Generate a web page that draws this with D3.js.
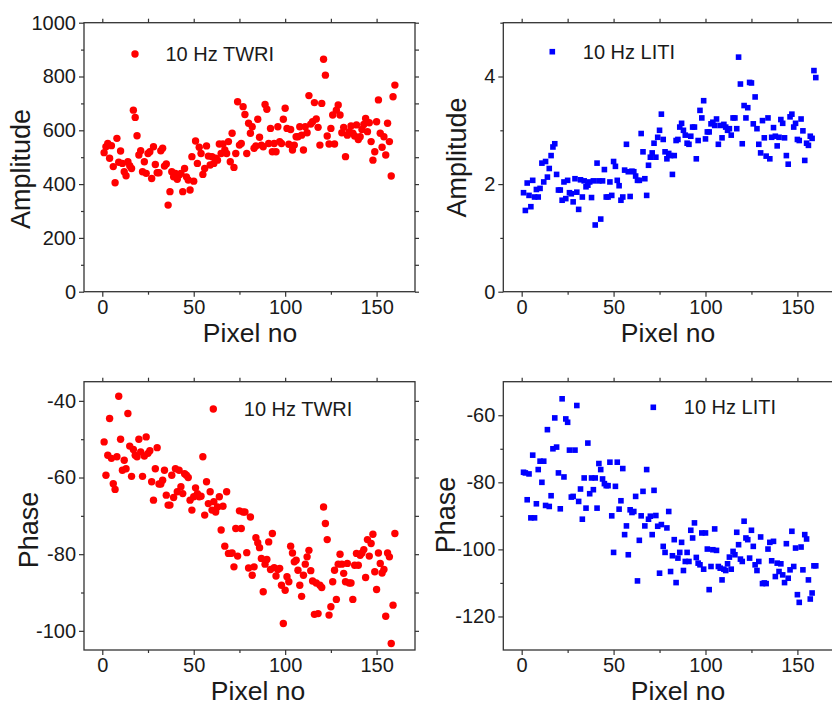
<!DOCTYPE html>
<html>
<head>
<meta charset="utf-8">
<script src="https://cdn.jsdelivr.net/npm/d3@7/dist/d3.min.js"></script>
<style>
  body { margin: 0; background: #fff; }
  svg { display: block; font-family: "Liberation Sans", Arial, sans-serif; }
</style>
</head>
<body>
<div id="chart"></div>
<script>
/* 10 Hz TWRI / LITI amplitude and phase along the pixel line */

/* amplitude, TWRI (red circles) */
const ampTWRI = [517, 539, 551, 496, 543, 465, 405, 570, 481, 523,
  477, 446, 431, 483, 468, 458, 675, 648, 580, 508,
  524, 446, 483, 440, 514, 520, 421, 539, 473, 442,
  442, 524, 533, 467, 475, 322, 372, 446, 427, 440,
  418, 434, 440, 372, 458, 427, 415, 378, 502, 411,
  560, 477, 537, 514, 436, 458, 542, 504, 471, 502,
  477, 496, 489, 549, 514, 549, 527, 514, 558, 483,
  589, 462, 514, 706, 545, 551, 688, 659, 514, 626,
  589, 613, 533, 542, 641, 574, 545, 539, 696, 678,
  551, 607, 520, 551, 520, 613, 558, 551, 641, 682,
  607, 548, 603, 527, 545, 576, 576, 613, 582, 527,
  613, 591, 729, 623, 632, 703, 642, 611, 545, 700,
  864, 805, 579, 549, 607, 657, 549, 675, 694, 657,
  591, 611, 502, 582, 595, 616, 589, 579, 620, 566,
  576, 603, 622, 644, 595, 628, 558, 489, 520, 632,
  713, 589, 537, 576, 508, 626, 558, 430, 725, 768];

/* amplitude, LITI (blue squares) */
const ampLITI = [1.84, 1.51, 2.02, 1.79, 1.58, 2.07, 1.76, 1.90, 1.76, 1.92,
  2.39, 2.04, 2.42, 2.13, 2.29, 2.53, 2.69, 2.75, 2.18, 1.89,
  1.89, 1.70, 2.04, 1.73, 2.07, 1.84, 1.82, 1.67, 2.10, 1.85,
  1.53, 2.08, 1.76, 2.06, 1.95, 1.98, 2.04, 1.75, 2.06, 1.24,
  2.39, 2.06, 1.35, 2.06, 2.27, 1.76, 1.76, 2.04, 1.79, 2.42,
  2.33, 2.07, 1.97, 1.70, 1.76, 2.26, 2.74, 2.23, 1.77, 2.24,
  2.23, 2.15, 2.07, 2.07, 2.94, 2.60, 2.10, 1.79, 2.35, 2.50,
  2.58, 2.76, 2.50, 2.87, 3.00, 3.30, 2.83, 2.60, 2.47, 2.57,
  2.53, 2.18, 2.53, 2.81, 2.83, 3.06, 3.13, 3.00, 2.91, 2.76,
  2.74, 2.89, 3.06, 3.06, 2.47, 2.81, 3.37, 3.23, 3.55, 2.84,
  2.97, 2.97, 3.12, 3.15, 3.09, 3.21, 2.74, 3.09, 2.86, 3.11,
  3.06, 3.00, 3.03, 2.91, 3.23, 3.23, 3.03, 4.36, 3.86, 2.75,
  3.46, 3.23, 3.42, 3.89, 3.88, 3.12, 3.62, 3.03, 2.74, 2.58,
  3.18, 2.86, 2.52, 3.23, 2.47, 2.87, 3.05, 2.89, 2.71, 2.87,
  3.20, 3.13, 2.86, 2.53, 2.37, 3.25, 3.30, 3.06, 3.13, 2.83,
  2.81, 3.21, 2.99, 2.44, 2.76, 2.72, 2.89, 2.85, 4.11, 3.98];

/* phase, TWRI */
const phaseTWRI = [-50.7, -59.4, -54.2, -44.6, -55.0, -61.6, -63.1, -54.6, -38.8, -50.0,
  -58.1, -55.5, -57.7, -43.3, -51.8, -59.7, -52.7, -54.2, -54.6, -50.0,
  -53.3, -59.7, -54.4, -49.4, -53.7, -53.0, -61.1, -65.9, -57.7, -52.2,
  -61.7, -61.7, -60.7, -58.1, -64.6, -67.2, -67.2, -59.4, -65.2, -57.7,
  -63.7, -58.1, -62.4, -64.2, -59.0, -59.4, -60.0, -65.9, -68.5, -65.0,
  -62.7, -64.2, -65.0, -64.9, -54.6, -69.8, -61.1, -66.8, -63.7, -68.5,
  -66.3, -69.0, -67.7, -65.0, -73.7, -67.5, -77.9, -63.7, -79.8, -79.8,
  -79.7, -83.3, -73.3, -80.5, -68.7, -73.3, -69.0, -69.0, -79.6, -83.6,
  -70.3, -85.5, -83.3, -75.7, -77.0, -78.3, -81.1, -89.8, -82.6, -81.4,
  -76.8, -84.0, -74.6, -83.5, -85.7, -84.0, -83.7, -88.1, -98.1, -89.4,
  -85.9, -87.2, -77.9, -79.7, -82.0, -81.6, -84.2, -88.1, -91.0, -85.5,
  -82.6, -80.7, -79.0, -84.3, -87.0, -95.7, -87.5, -95.5, -88.1, -88.7,
  -67.7, -72.0, -76.2, -95.9, -93.7, -87.2, -84.2, -91.8, -82.6, -80.0,
  -82.6, -85.0, -87.2, -82.4, -87.5, -87.5, -91.8, -82.9, -79.8, -82.9,
  -80.3, -79.7, -78.8, -86.1, -76.2, -80.5, -77.2, -74.8, -84.6, -89.2,
  -79.7, -82.4, -84.9, -84.0, -96.2, -79.7, -80.7, -103.3, -93.3, -74.6];

/* phase, LITI */
const phaseLITI = [-77.0, -77.2, -85.2, -77.5, -90.6, -71.9, -90.6, -86.4, -76.2, -73.7,
  -80.0, -73.7, -86.9, -64.3, -87.2, -84.0, -70.0, -60.8, -69.5, -77.2,
  -87.9, -55.1, -78.4, -61.1, -62.1, -70.4, -84.4, -84.2, -70.4, -57.1,
  -85.7, -82.0, -91.0, -78.7, -87.7, -68.3, -83.4, -78.7, -82.2, -78.7,
  -87.7, -74.4, -76.2, -79.0, -80.4, -81.0, -81.0, -74.0, -90.0, -100.9,
  -81.2, -74.0, -88.0, -85.5, -75.9, -95.6, -93.0, -101.6, -88.2, -89.0,
  -88.7, -84.2, -109.4, -97.3, -90.0, -82.7, -93.0, -76.2, -91.0, -90.1,
  -95.6, -82.4, -89.9, -93.1, -107.1, -92.6, -99.1, -100.9, -93.6, -88.7,
  -106.6, -101.9, -97.1, -109.9, -102.6, -100.9, -97.9, -106.3, -103.6, -100.9,
  -103.6, -94.3, -96.6, -92.1, -102.4, -104.1, -104.6, -95.1, -105.9, -95.1,
  -99.9, -112.0, -105.1, -100.1, -93.9, -100.3, -105.1, -105.6, -109.1, -105.9,
  -106.3, -104.3, -102.3, -105.9, -100.6, -101.6, -94.9, -98.6, -102.9, -103.6,
  -91.6, -96.6, -97.1, -102.6, -94.3, -99.1, -104.6, -106.3, -103.6, -96.3,
  -110.2, -110.0, -110.2, -99.9, -97.9, -103.4, -97.6, -108.1, -104.1, -106.6,
  -104.3, -107.6, -109.9, -98.3, -108.6, -106.1, -94.6, -105.1, -99.6, -113.5,
  -115.8, -99.3, -106.1, -95.6, -96.9, -109.1, -114.8, -113.0, -104.9, -104.9];

/* pixel number of each sample */
const pixelNo = d3.range(1, ampTWRI.length + 1);

/* axis ticks */
const xMajor = [0, 50, 100, 150];
const xMinor = [25, 75, 125];
const xDomain = [-10, 171];

const width = 832, height = 705;

const svg = d3.select("#chart")
    .append("svg")
    .attr("width", width)
    .attr("height", height);

const textColor = "#1a1a1a", lineColor = "#333";
const plain = d => String(d).replace("\u2212", "-");   // "1000", "-40", "4" like the original

function drawPanel(p) {
    const x = d3.scaleLinear().domain(xDomain).range([p.left, p.right]);
    const y = d3.scaleLinear().domain(p.yDomain).range([p.bottom, p.top]);
    const g = svg.append("g");

    /* major + minor ticks on all four sides, ticks point outward */
    const style = a => {
        a.select(".domain").remove();
        a.selectAll("line").attr("stroke", lineColor).attr("stroke-width", 1.2);
        a.selectAll("text")
            .attr("fill", textColor)
            .style("font-size", "20px")
            .style("font-family", '"Liberation Sans", Arial, sans-serif');
    };

    g.append("g").attr("transform", `translate(0,${p.bottom})`)
        .call(d3.axisBottom(x).tickValues(xMajor).tickSize(5).tickPadding(3).tickFormat(plain))
        .call(style);
    g.append("g").attr("transform", `translate(0,${p.bottom})`)
        .call(d3.axisBottom(x).tickValues(xMinor).tickSize(3).tickFormat(""))
        .call(style);
    g.append("g").attr("transform", `translate(0,${p.top})`)
        .call(d3.axisTop(x).tickValues(xMajor.concat(xMinor)).tickSize(4).tickFormat(""))
        .call(style);

    g.append("g").attr("transform", `translate(${p.left},0)`)
        .call(d3.axisLeft(y).tickValues(p.yMajor).tickSize(5).tickPadding(3).tickFormat(plain))
        .call(style);
    g.append("g").attr("transform", `translate(${p.left},0)`)
        .call(d3.axisLeft(y).tickValues(p.yMinor).tickSize(3).tickFormat(""))
        .call(style);
    g.append("g").attr("transform", `translate(${p.right},0)`)
        .call(d3.axisRight(y).tickValues(p.yMajor.concat(p.yMinor)).tickSize(4).tickFormat(""))
        .call(style);

    /* frame */
    g.append("rect")
        .attr("x", p.left).attr("y", p.top)
        .attr("width", p.right - p.left).attr("height", p.bottom - p.top)
        .attr("fill", "none")
        .attr("stroke", lineColor)
        .attr("stroke-width", 1.3);

    /* markers */
    const pts = p.values.map((v, i) => ({ px: pixelNo[i], v: v }));
    if (p.shape === "circle") {
        g.selectAll(".pt").data(pts).join("circle")
            .attr("cx", d => x(d.px))
            .attr("cy", d => y(d.v))
            .attr("r", 3.7)
            .attr("fill", p.color);
    } else {
        g.selectAll(".pt").data(pts).join("rect")
            .attr("x", d => x(d.px) - 2.8)
            .attr("y", d => y(d.v) - 2.8)
            .attr("width", 5.6).attr("height", 5.6)
            .attr("fill", p.color);
    }

    /* legend */
    if (p.shape === "circle") {
        g.append("circle").attr("cx", p.legend[0]).attr("cy", p.legend[1])
            .attr("r", 3.7).attr("fill", p.color);
    } else {
        g.append("rect").attr("x", p.legend[0] - 2.8).attr("y", p.legend[1] - 2.8)
            .attr("width", 5.6).attr("height", 5.6).attr("fill", p.color);
    }
    g.append("text")
        .attr("x", p.legend[0] + 30.5)
        .attr("y", p.legend[1] + 7)
        .attr("fill", textColor)
        .style("font-size", "20px")
        .text(p.label);

    /* axis titles */
    g.append("text")
        .attr("x", p.xTitle[0]).attr("y", p.xTitle[1])
        .attr("text-anchor", "middle")
        .attr("fill", textColor)
        .style("font-size", "26.5px")
        .text("Pixel no");
    g.append("text")
        .attr("transform", `translate(${p.yTitle[0]},${p.yTitle[1]}) rotate(-90)`)
        .attr("text-anchor", "middle")
        .attr("fill", textColor)
        .style("font-size", "27px")
        .text(p.yLabel);
}

drawPanel({
    left: 84, right: 415, top: 22.7, bottom: 291.7,
    yDomain: [0, 1000], yMajor: [0, 200, 400, 600, 800, 1000], yMinor: [100, 300, 500, 700, 900],
    values: ampTWRI, shape: "circle", color: "#ff0000",
    label: "10 Hz TWRI", legend: [135, 54],
    yLabel: "Amplitude", xTitle: [250, 342], yTitle: [30, 169]
});

drawPanel({
    left: 503.3, right: 836, top: 22.7, bottom: 291.7,
    yDomain: [0, 5], yMajor: [0, 2, 4], yMinor: [1, 3, 5],
    values: ampLITI, shape: "square", color: "#0000ff",
    label: "10 Hz LITI", legend: [552.3, 51.7],
    yLabel: "Amplitude", xTitle: [668, 342], yTitle: [466, 157.5]
});

drawPanel({
    left: 84, right: 415, top: 381.7, bottom: 650,
    yDomain: [-105, -35], yMajor: [-40, -60, -80, -100], yMinor: [-50, -70, -90],
    values: phaseTWRI, shape: "circle", color: "#ff0000",
    label: "10 Hz TWRI", legend: [213.3, 409],
    yLabel: "Phase", xTitle: [258, 699.5], yTitle: [37.5, 530]
});

drawPanel({
    left: 503.3, right: 836, top: 381.7, bottom: 650,
    yDomain: [-130, -50], yMajor: [-60, -80, -100, -120], yMinor: [-70, -90, -110],
    values: phaseLITI, shape: "square", color: "#0000ff",
    label: "10 Hz LITI", legend: [653.3, 407.3],
    yLabel: "Phase", xTitle: [678, 699.5], yTitle: [454.5, 515]
});
</script>
</body>
</html>
